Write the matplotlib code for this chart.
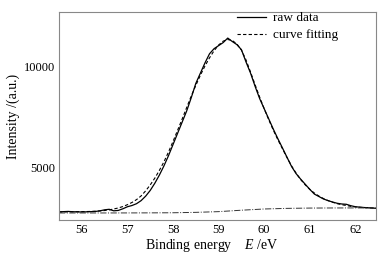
import matplotlib
matplotlib.use("Agg")
import matplotlib.pyplot as plt
import numpy as np

plt.rcParams['font.family'] = ['Liberation Serif', 'DejaVu Serif']
plt.rcParams['mathtext.fontset'] = 'custom'
plt.rcParams['mathtext.rm'] = 'Liberation Serif'
plt.rcParams['mathtext.it'] = 'Liberation Serif:italic'

energy = [55.5, 55.6, 55.7, 55.8, 55.9, 56.0, 56.1, 56.2, 56.3, 56.4,
          56.5, 56.6, 56.7, 56.8, 56.9, 57.0, 57.1, 57.2, 57.3, 57.4,
          57.5, 57.6, 57.7, 57.8, 57.9, 58.0, 58.1, 58.2, 58.3, 58.4,
          58.5, 58.6, 58.7, 58.8, 58.9, 59.0, 59.1, 59.2, 59.3, 59.4,
          59.5, 59.6, 59.7, 59.8, 59.9, 60.0, 60.1, 60.2, 60.3, 60.4,
          60.5, 60.6, 60.7, 60.8, 60.9, 61.0, 61.1, 61.2, 61.3, 61.4,
          61.5, 61.6, 61.7, 61.8, 61.9, 62.0, 62.1, 62.2, 62.3, 62.4, 62.5]

raw_data = [2850, 2860, 2870, 2855, 2850, 2845, 2850, 2860, 2870, 2900,
            2950, 2975, 2900, 2920, 3000, 3100, 3160, 3250, 3400, 3620,
            3900, 4250, 4650, 5100, 5600, 6150, 6700, 7250, 7800, 8450,
            9150, 9650, 10150, 10600, 10850, 11000, 11150, 11370, 11200, 11050,
            10800, 10200, 9650, 9000, 8400, 7900, 7400, 6900, 6430, 5980,
            5520, 5070, 4720, 4450, 4200, 3950, 3720, 3600, 3480, 3400,
            3330, 3270, 3235, 3220, 3150, 3100, 3080, 3060, 3050, 3030, 3020]

curve_fitting = [2840, 2845, 2850, 2850, 2855, 2860, 2865, 2870, 2880, 2895,
                 2915, 2945, 2990, 3040, 3110, 3200, 3310, 3450, 3630, 3880,
                 4170, 4500, 4880, 5300, 5780, 6300, 6850, 7400, 7970, 8530,
                 9050, 9550, 10000, 10400, 10750, 11030, 11220, 11300, 11250, 11080,
                 10780, 10300, 9700, 9080, 8470, 7900, 7360, 6850, 6380, 5940,
                 5510, 5100, 4740, 4430, 4170, 3950, 3770, 3620, 3500, 3400,
                 3320, 3250, 3200, 3160, 3120, 3090, 3070, 3055, 3045, 3040, 3035]

bg_energy = [55.5, 56.0, 56.5, 57.0, 57.5, 58.0, 58.5, 59.0, 59.5, 60.0,
             60.5, 61.0, 61.5, 62.0, 62.5]
background = [2795, 2795, 2795, 2797, 2800, 2805, 2825, 2860, 2930, 2990,
              3020, 3035, 3040, 3042, 3042]

fig = plt.figure(figsize=(3.87, 2.63), dpi=100)
ax = fig.add_axes([0.1525, 0.1635, 0.819, 0.791])

ax.plot(energy, raw_data, color='black', lw=0.9, label='raw data')
ax.plot(energy, curve_fitting, color='black', lw=0.8, ls=(0, (3.0, 2.0)), label='curve fitting')
ax.plot(bg_energy, background, color='#333333', lw=0.7, ls='-.')

ax.set_xlim(55.5, 62.45)
ax.set_ylim(2450, 12650)
ax.set_xticks([56, 57, 58, 59, 60, 61, 62])
ax.set_yticks([5000, 10000])
ax.tick_params(length=0, labelsize=9, pad=3)
for s in ax.spines.values():
    s.set_color('#888888')
    s.set_linewidth(0.8)

ax.set_xlabel('Binding energy    $E$ /eV', fontsize=10)
ax.set_ylabel('Intensity /(a.u.)', fontsize=10)
ax.xaxis.set_label_coords(0.483, -(245 - 220) / 208)
ax.xaxis.label.set_va('center')
ax.yaxis.set_label_coords(-(59 - 13) / 317, 0.5)
ax.yaxis.label.set_va('center')

ax.legend(loc='upper left', frameon=False, fontsize=9.5, handlelength=2.2,
          handletextpad=0.55, borderpad=0.0, borderaxespad=0.0, labelspacing=0.36,
          bbox_to_anchor=(0.56, 1.0))

fig.savefig('out.png', dpi=100)
